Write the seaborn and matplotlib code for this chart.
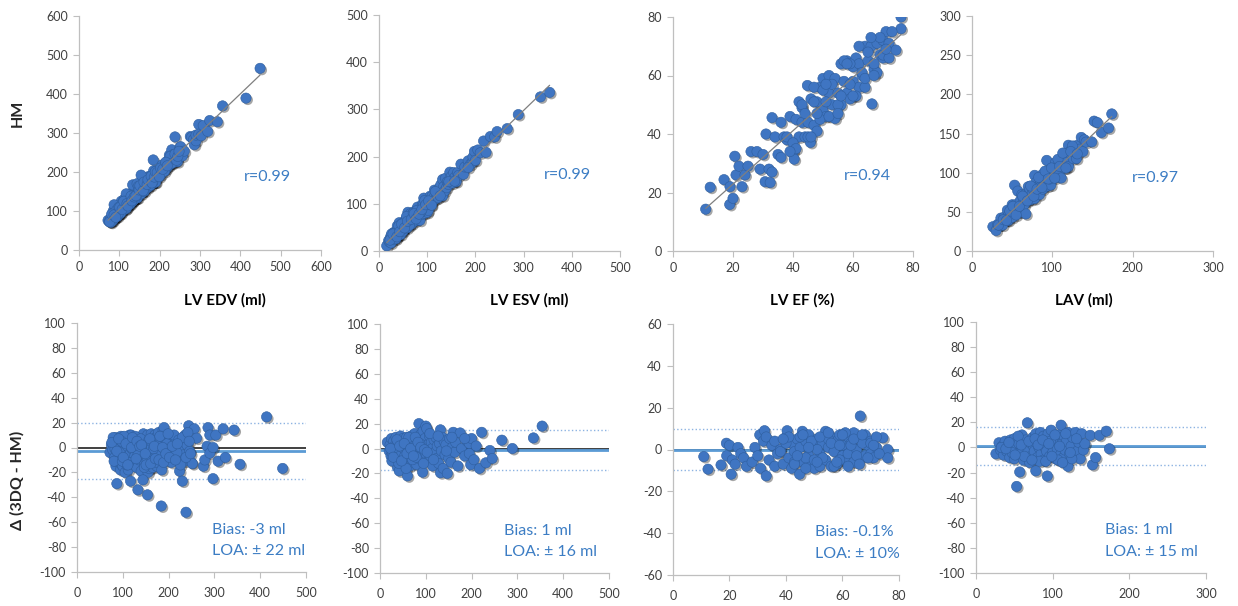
import matplotlib
matplotlib.use('Agg')
import matplotlib.pyplot as plt
import matplotlib.patheffects as pe
import numpy as np
import seaborn as sns

# Bland-Altman values: x = 3DQ value, delta = 3DQ - HM
edv_3dq = [72, 75, 78, 80, 82, 84, 85, 86, 88, 88,
           90, 90, 92, 94, 95, 96, 98, 98, 100, 100,
           102, 104, 105, 106, 108, 110, 110, 112, 114, 115,
           116, 118, 120, 120, 122, 124, 125, 126, 128, 130,
           130, 132, 134, 135, 136, 138, 140, 140, 142, 144,
           145, 146, 148, 150, 150, 152, 154, 155, 156, 158,
           160, 160, 162, 164, 165, 166, 168, 170, 170, 172,
           174, 175, 176, 178, 180, 180, 182, 185, 188, 190,
           192, 195, 198, 200, 203, 206, 210, 213, 216, 220,
           224, 228, 232, 236, 240, 87, 117, 133, 144, 154,
           184, 190, 224, 230, 234, 238, 244, 246, 250, 252,
           256, 261, 276, 279, 284, 286, 290, 290, 297, 297,
           303, 308, 319, 324, 343, 356, 414, 449,
           83, 93, 103, 113, 123, 133, 143, 153, 163, 173,
           79, 97, 109, 127, 139, 147, 157, 167, 183, 196,
           205, 212, 218, 222, 226, 230, 238, 242, 245, 248,
           76, 81, 87, 91, 99, 101, 107, 111, 119, 121,
           129, 131, 137, 141, 149, 151, 159, 161, 169, 171,
           179, 181, 187, 189, 194, 199, 202, 208, 215, 219]
edv_delta = [-4, 2, -2, 5, -8, 8, -15, 3, 6, -10,
             -12, 0, 4, -6, -18, 9, 2, -14, -15, 6,
             2, -3, -20, 7, -9, 1, -7, -18, 5, 10,
             -5, 10, -1, 3, -12, 6, -14, -7, 3, -16,
             0, 8, -2, 7, -10, 4, -19, -3, 9, -4,
             11, 0, -13, 6, 2, -8, 10, -20, -2, -17,
             3, -9, 11, -6, -16, -11, 5, -3, 10, 8,
             -15, -12, 1, 12, -7, 0, 4, -18, 14, -2,
             7, -10, 2, -5, 9, -12, 4, -3, 7, -8,
             1, 5, -6, 10, 2, -29, -27, -34, -26, -38,
             -47, 16, -19, -27, -11, -52, 17.5, -3, -12, -13,
             15, 7.5, -15, -10, 1, 16, 10, -4.6, -25, 0,
             10, -11, 15, -8, 14, -13.5, 24.6, -16.8,
             -1, -9, 9, -12, 0, -6, 4, -11, 0, -6,
             8, 5, -14, 9, 7, -16, 6, -1, 9, 3,
             -1, 10, -4, 6, -14, 8, -8, 12, 5, -5,
             4, -11, -3, 7, -11, -8, 3, -14, 0, 8,
             -9, 5, 1, 2, -5, -14, 7, -13, 1, -9,
             -10, 9, 0, -12, -5, 11, -8, 1, -10, 3]

esv_3dq = [16, 20, 22, 24, 25, 27, 28, 30, 30, 32,
           34, 35, 36, 38, 38, 40, 42, 42, 44, 45,
           46, 48, 50, 50, 52, 54, 55, 56, 58, 60,
           60, 62, 64, 65, 66, 68, 70, 70, 72, 74,
           75, 76, 78, 80, 80, 82, 84, 85, 86, 88,
           90, 90, 92, 93, 94, 96, 98, 100, 100, 102,
           104, 106, 108, 110, 112, 114, 115, 118, 120, 122,
           124, 125, 128, 130, 132, 132, 134, 136, 138, 140,
           142, 144, 147, 150, 152, 155, 158, 160, 163, 165,
           170, 175, 178, 185, 190, 195, 195, 198, 200, 205,
           210, 217, 222, 231, 240, 245, 266, 289, 335, 354,
           26, 33, 41, 49, 57, 63, 71, 79, 87, 95,
           23, 29, 37, 43, 47, 53, 59, 67, 73, 77,
           83, 89, 97, 103, 109, 117, 127, 145, 157, 185]
esv_delta = [5, -2, 3, -6, 8, -4, 0, 6, -9, 2,
             -5, 9, -1, -15, 4, 7, -18, -8, 1, 10,
             -3, 5, -10, 8, 0, -6, 3, -12, 9, -22,
             2, -8, 6, -14, -2, 10, -4, 4, -11, 7,
             -1, 12, -7, 3, -13, 9, -3, 20, 1, 11,
             -9, 6, -5, -19, 14, 0, 8, 18, -4, 16,
             3, -10, 10, -6, 5, 0, -14, 7, -3, 9,
             -8, 2, -12, 4, 15, -19.5, -2, 9, -16, 6,
             -5, 3, -20, -8, 8, -11, 1, 13, -3, 5,
             -14, 12.5, 0, -6, 6, 4, -4, -13, 8, -9,
             2, -16, 13, -11.5, -1.6, -8, 6.7, 0, 8.5, 18,
             -10, 1, -12, 3, -16, 9, -9, -7, 4, -12,
             0, -7, 7, 2, -10, 4, -4, 0, -6, 9,
             5, 1, -1, -3, 12, -9, 10, -2, 9, 8]

ef_3dq = [10.9, 12.4, 17, 18.9, 19, 20, 20.6, 21, 22, 23,
          24, 25, 26, 28, 29, 30, 30.7, 31, 32, 32.4,
          33, 33, 34, 35, 36, 37, 38, 39, 40, 40.4,
          41, 42, 42, 43, 44, 44.8, 45, 45.8, 46, 47,
          48, 48, 49, 50, 50, 51, 52, 52, 53, 54,
          54, 55, 56, 56, 57, 58, 58, 59, 60, 60,
          61, 62, 62, 63, 64, 64, 65, 66, 66.3, 67,
          68, 68, 69, 70, 70, 71, 72, 74.3, 76, 76,
          36, 43, 47, 51, 55, 59, 63, 67, 57, 45,
          38, 40, 41, 43, 44, 46, 47, 49, 50, 52,
          53, 55, 56, 58, 59, 61, 62, 64, 65, 67,
          69, 70, 72, 73, 39, 48, 51, 60, 66, 71]
ef_delta = [-3.4, -9.4, -7.4, 3, -3, 2, -11.8, -5, -7, 1,
            -2, -4, -8, -6, 1, -3, 7, -9, 4, 9,
            -12.6, 6, -5, 2, -8, -2, 0, -7, 6, 9,
            -4, 3, -9, -1, 5, -11.8, 1, 8.7, -6, 4,
            -3, 7, -7, 2, -9, 5, -2, -8, 3, 8.7,
            -5, 1, -8, 6, -1, 4, -7, 7, -3, 2,
            -5, 6, -2, 3, -6, 8, 0, -4, 16, 5,
            -3, 7, 2, -2, 4, -4, 1, 5.6, 0, -4,
            4, -6, -4, 0, 5, -5, 2, 3, -8, 6,
            -1, 3, 6, -7, -3, 7, -9, 4, -5, 6,
            -4, 8, 3, -6, 2, 8, -8, 5, -3, 7,
            -4, 3, 6, -2, 5, 1, -6, 7, -7, 2]

lav_3dq = [26, 30, 32, 34, 36, 38, 40, 42, 44, 45,
           46, 48, 50, 50, 52, 53, 54, 56, 57, 58,
           60, 60, 62, 64, 65, 66, 67, 68, 70, 70,
           72, 74, 75, 76, 78, 78, 80, 80, 82, 84,
           85, 86, 88, 88, 90, 90, 92, 93, 94, 96,
           98, 98, 100, 102, 104, 105, 106, 108, 110, 111,
           112, 114, 115, 116, 118, 120, 120, 122, 124, 126,
           128, 130, 132, 134, 136, 138, 140, 142, 149, 152,
           156, 161, 170, 174, 47, 63, 83, 97, 107, 125,
           33, 39, 43, 51, 55, 59, 69, 73, 77, 81,
           87, 91, 95, 99, 103, 109, 113, 117, 123, 131]
lav_delta = [-5, 3.8, -2, 1, -6, 5, -3, 2, -8, 6,
             -1, 4, -9, 7, 0, -31, -5, 3, -19.5, 8,
             -4, 10, -10, 2, 6, -6, 19.7, -2, 4, -12,
             -7, 8, 1, -3, -18.6, 11, -8, 5, 0, 12,
             -5, 3, -10, 9, 0, 6, -3, -22.7, 11, -7,
             13.8, 2, -4, 7, -9, 4, -1, 10, -6, 17.8,
             3, -8, 9, -2, 5, -15, 12, -5, 1, 8,
             -6, 12, -3, 4, -9, 11, -2, 3, 9.7, -13.8,
             -8, 9.7, 13, -1, -4, -7, -11, 5, -10, -9,
             0, -1, 4, -6, 9, 2, 5, -10, 7, 2,
             6, -11, 3, -7, 10, 1, -12, 11, -4, 7]

titles = ['LV EDV (ml)', 'LV ESV (ml)', 'LV EF (%)', 'LAV (ml)']
r_labels = ['r=0.99', 'r=0.99', 'r=0.94', 'r=0.97']
bias_labels = ['Bias: -3 ml', 'Bias: 1 ml', 'Bias: -0.1%', 'Bias: 1 ml']
loa_labels = ['LOA: \u00b1 22 ml', 'LOA: \u00b1 16 ml', 'LOA: \u00b1 10%', 'LOA: \u00b1 15 ml']
bias_line = [-3, -1, -0.1, 1]
loa_upper = [20, 15, 9.7, 16]
loa_lower = [-25, -17, -9.9, -14]

W, H = 1238, 606
DOT = '#3F75C2'
TXT = '#3C7DC4'

sns.set_style('white')
plt.rcParams['font.family'] = ['Lato', 'DejaVu Sans']
plt.rcParams['axes.unicode_minus'] = False

fig = plt.figure(figsize=(W / 100, H / 100), dpi=100)


def rect(l, r, t, b):
    # pixel box -> figure fraction
    return [l / W, 1 - b / H, (r - l) / W, (b - t) / H]


def style(ax):
    for s in ['top', 'right']:
        ax.spines[s].set_visible(False)
    for s in ['left', 'bottom']:
        ax.spines[s].set_color('#BFBFBF')
        ax.spines[s].set_linewidth(0.9)
    ax.tick_params(bottom=True, left=True, length=4, width=0.8, color='#BFBFBF',
                   labelcolor='#404040', labelsize=9, pad=4)
    ax.set_xlabel('')
    ax.set_ylabel('')


def dots(ax, x, y):
    sns.scatterplot(x=x, y=y, ax=ax, s=55, color=DOT, edgecolor='#2E5E9E',
                    linewidth=0.4, zorder=3)
    ax.collections[-1].set_path_effects([
        pe.SimplePatchShadow(offset=(1.3, -1.3), shadow_rgbFace='black', alpha=0.35),
        pe.Normal()])


top_boxes = [(79, 321, 16, 250), (379, 620, 15, 251), (673, 913, 17, 251), (972, 1213, 16, 251)]
bot_boxes = [(77, 306, 323, 572), (380, 609, 324, 573), (673, 899, 324, 575), (976, 1206, 322, 573)]
top_lims = [(600, 600, 100, 100), (500, 500, 100, 100), (80, 80, 20, 20), (300, 300, 100, 50)]
bot_lims = [(500, 100, 100, 20), (500, 100, 100, 20), (80, 60, 20, 20), (300, 100, 100, 20)]
title_x = [225, 529, 802, 1084]
r_pos = [(0.78, 0.31), (0.78, 0.32), (0.81, 0.32), (0.76, 0.31)]
txt_x = [0.59, 0.54, 0.63, 0.56]

panels = [(edv_3dq, edv_delta), (esv_3dq, esv_delta), (ef_3dq, ef_delta), (lav_3dq, lav_delta)]

for i, (dq, delta) in enumerate(panels):
    dq = np.array(dq, dtype=float)
    delta = np.array(delta, dtype=float)
    hm = dq - delta

    # correlation panel
    ax = fig.add_axes(rect(*top_boxes[i]))
    xmax, ymax, xstep, ystep = top_lims[i]
    dots(ax, dq, hm)
    sns.regplot(x=dq, y=hm, ax=ax, scatter=False, ci=None, truncate=True,
                line_kws=dict(color='#7F7F7F', lw=0.9, zorder=4))
    ax.set_xlim(0, xmax)
    ax.set_ylim(0, ymax)
    ax.set_xticks(np.arange(0, xmax + 1, xstep))
    ax.set_yticks(np.arange(0, ymax + 1, ystep))
    style(ax)
    ax.text(*r_pos[i], r_labels[i], transform=ax.transAxes, ha='center', va='center',
            color=TXT, fontsize=11.5)
    fig.text(title_x[i] / W, 1 - 300 / H, titles[i], ha='center', va='center',
             fontsize=11, fontweight='bold', color='black')

    # Bland-Altman panel
    ax = fig.add_axes(rect(*bot_boxes[i]))
    xmax, ylim, xstep, ystep = bot_lims[i]
    ax.axhline(0, color='#404040', lw=1.4, zorder=1)
    ax.axhline(bias_line[i], color='#5B9BD5', lw=2, zorder=2)
    ax.axhline(loa_upper[i], color='#8DB3E2', lw=1, ls=':', zorder=1)
    ax.axhline(loa_lower[i], color='#8DB3E2', lw=1, ls=':', zorder=1)
    dots(ax, dq, delta)
    ax.set_xlim(0, xmax)
    ax.set_ylim(-ylim, ylim)
    ax.set_xticks(np.arange(0, xmax + 1, xstep))
    ax.set_yticks(np.arange(-ylim, ylim + 1, ystep))
    style(ax)
    ax.tick_params(axis='x', pad=7)
    ax.text(txt_x[i], 0.17, bias_labels[i], transform=ax.transAxes, ha='left', va='center',
            color=TXT, fontsize=11.5)
    ax.text(txt_x[i], 0.085, loa_labels[i], transform=ax.transAxes, ha='left', va='center',
            color=TXT, fontsize=11.5)

fig.text(18 / W, 1 - 113 / H, 'HM', rotation=90, ha='center', va='center',
         fontsize=11.5, fontweight='bold')
fig.text(17 / W, 1 - 480 / H, '\u0394 (3DQ - HM)', rotation=90, ha='center', va='center',
         fontsize=11.5, fontweight='bold')

fig.savefig('out.png', dpi=100, facecolor='white')
